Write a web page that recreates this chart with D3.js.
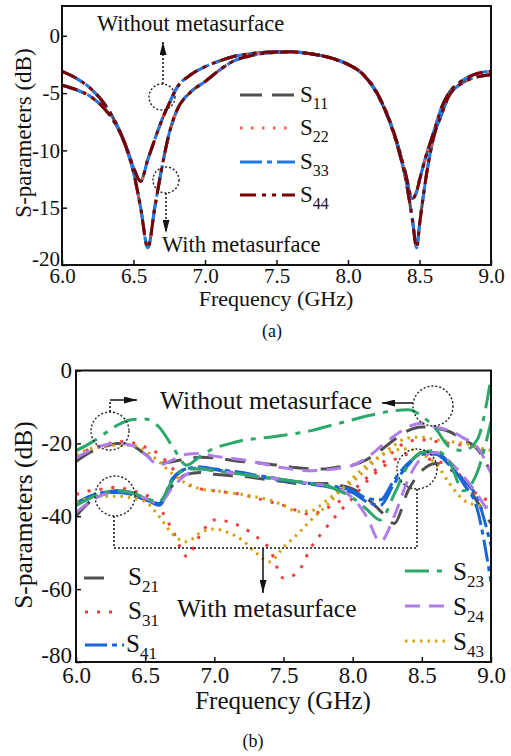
<!DOCTYPE html>
<html>
<head>
<meta charset="utf-8">
<script src="https://cdn.jsdelivr.net/npm/d3@7"></script>
<style>
body { margin: 0; background: #fff; }
svg text { font-family: "Liberation Serif", "DejaVu Serif", "Times New Roman", serif; fill: #111; }
</style>
</head>
<body>
<svg id="chart" width="511" height="756" font-family="Liberation Serif, DejaVu Serif, serif"></svg>
<script>
// ---- data ----
// panel (a): the four reflection curves lie on top of each other
var freqA = [6.0, 6.1, 6.2, 6.3, 6.35, 6.4, 6.45, 6.5, 6.55, 6.6, 6.65, 6.7, 6.75, 6.8, 6.9,
    7.0, 7.1, 7.2, 7.3, 7.4, 7.5, 7.6, 7.7, 7.8, 7.9, 8.0, 8.1, 8.2, 8.3, 8.35, 8.4, 8.45, 8.48,
    8.5, 8.55, 8.6, 8.65, 8.7, 8.8, 8.9, 9.0]
var reflWithout = [-3.1, -3.7, -4.6, -6.0, -7.0, -8.2, -9.7, -11.5, -12.7, -10.8, -9.0, -7.3, -5.9, -4.6, -3.4,
    -2.7, -2.2, -1.8, -1.6, -1.45, -1.4, -1.4, -1.5, -1.7, -2.0, -2.5, -3.3, -4.9, -7.7, -9.6, -11.9, -14.2, -13.6,
    -12.6, -10.3, -8.4, -6.4, -5.1, -3.9, -3.3, -3.1]
var reflWith = [-4.3, -4.7, -5.3, -6.4, -7.2, -8.3, -9.8, -11.9, -15.0, -18.5, -14.9, -11.4, -8.5, -6.6, -4.9,
    -4.0, -3.0, -2.2, -1.8, -1.55, -1.45, -1.4, -1.5, -1.7, -2.0, -2.5, -3.3, -5.0, -7.8, -9.8, -12.3, -16.0, -18.5,
    -16.5, -12.0, -8.8, -7.0, -5.4, -4.1, -3.6, -3.4]

// panel (b): transmission curves
var freqB = [6.0, 6.1, 6.2, 6.3, 6.4, 6.5, 6.6, 6.7, 6.8, 6.9, 7.0, 7.1, 7.2, 7.3, 7.4, 7.5,
    7.6, 7.7, 7.8, 7.9, 8.0, 8.1, 8.2, 8.3, 8.4, 8.5, 8.6, 8.7, 8.8, 8.9, 9.0]
var s21Without = [-25, -22.5, -21, -20, -20.5, -23, -25.5, -25, -24.2, -23.8, -24, -24.5, -25, -25.3, -25.7, -26.2,
    -26.7, -27, -27, -26.5, -26, -24.5, -22, -19, -16.5, -15.5, -15.8, -16.8, -19, -21.5, -28]
var s21With = [-40, -36, -34, -33, -33.5, -35.5, -36, -31.5, -28.5, -28, -28.5, -28.8, -29, -29.5, -30, -30.5,
    -31, -31, -31, -31.5, -32.5, -35, -38.5, -42, -33, -27.5, -25.5, -27, -30, -36, -42]
var s31Without = [-24, -21.5, -20.5, -19.5, -19.8, -21, -23, -27, -31, -32.5, -33, -33.5, -34, -35, -36, -37,
    -38.5, -39.5, -38, -36, -33, -29.5, -26, -22, -19.5, -19, -19.5, -20, -20.5, -21, -24]
var s31With = [-34, -33, -32.5, -32, -33, -34, -37.5, -44, -51, -45, -41, -41.5, -43, -45.5, -49, -57,
    -55.5, -48.5, -43.5, -39, -35, -30.5, -27, -24.5, -23, -23.5, -25, -25.5, -30, -34, -36]
var s41Without = [-36.5, -34.5, -33.5, -33.5, -34, -35.5, -36.5, -29.5, -27, -26.8, -27.2, -27.8, -28.3, -29, -29.6, -30.2,
    -30.7, -31.2, -31.8, -32.5, -33.5, -36, -37, -31, -26, -22.5, -22.5, -25.5, -31, -38, -58]
var s41With = [-37, -35, -33.5, -33, -33.5, -35, -37, -30, -27, -26.5, -27, -27.5, -28, -28.7, -29.3, -30,
    -30.5, -31, -31.5, -32, -33, -35, -35.5, -30, -25.5, -23, -23, -26, -30, -35, -48]
var s23Without = [-22, -20, -17.5, -15, -13.5, -13.3, -15.5, -21, -26, -23.5, -21.3, -20.2, -19.2, -18.7, -18.3, -17.8,
    -17.2, -16.5, -15.5, -14.5, -13.5, -12.5, -11.7, -11, -10.8, -12.5, -16, -21, -22, -19, -2]
var s23With = [-37, -35, -33.5, -33, -33.5, -35, -36, -30, -27, -27, -27.5, -28, -28.5, -29, -29.5, -30,
    -30.5, -31, -31.5, -33, -35, -38, -41, -34, -26, -22.5, -22, -25, -33, -28, -14]
var s24Without = [-24, -22, -20.5, -20, -20.5, -23, -26, -24.5, -23, -22.8, -23.5, -24, -24.5, -25.2, -26, -26.7,
    -27.2, -27.5, -27.3, -26.8, -26, -24, -21, -18, -15.5, -14.5, -15.5, -16.5, -18.5, -21, -28]
var s24With = [-39, -36, -34, -33, -33.5, -35, -36.5, -32, -28.5, -27, -27.5, -28, -28.5, -29, -29.5, -30,
    -30.5, -31, -31.5, -32.5, -35, -40, -47, -40, -30, -24, -22.5, -25, -29, -34, -40]
var s43Without = [-23, -21.5, -21, -20.5, -20.5, -22, -25, -28.5, -31, -32.5, -33, -33.5, -34, -34.7, -35.5, -37,
    -38.7, -38.5, -36, -33, -30.5, -27, -23.5, -20.5, -18.5, -18.3, -19, -19.5, -20, -21, -22]
var s43With = [-36, -35, -34.5, -34.5, -35, -36, -40, -45, -47, -44.5, -43.5, -44.5, -46.5, -50, -52.5, -48.5,
    -45, -41, -37.5, -33.5, -29.5, -26, -23.5, -22, -21.5, -23, -25.5, -31, -35.5, -37, -37.5]

var ticksX = [6.0, 6.5, 7.0, 7.5, 8.0, 8.5, 9.0]
var ticksYA = [-20, -15, -10, -5, 0]
var ticksYB = [-80, -60, -40, -20, 0]

// ---- styles ----
var serif = "Liberation Serif, DejaVu Serif, serif"
var lineStyle = {
    "11": {color: "#505050", dash: "22 10"},
    "22": {color: "#ff5a5a", dash: "2.5 8.5"},
    "33": {color: "#1f7ae6", dash: "22 5 5 5"},
    "44": {color: "#7a0000", dash: "16 6 4 6 4 6"},
    "21": {color: "#505050", dash: "20 12"},
    "31": {color: "#f03c3c", dash: "3 9"},
    "41": {color: "#1865d8", dash: "22 5 5 5"},
    "23": {color: "#2ca86a", dash: "24 8 5 8"},
    "24": {color: "#b07ee8", dash: "15 9"},
    "43": {color: "#d4a20f", dash: "2.5 5"}
}

var seriesA = [
    {name: "11", without: reflWithout, with: reflWith},
    {name: "22", without: reflWithout, with: reflWith},
    {name: "33", without: reflWithout, with: reflWith},
    {name: "44", without: reflWithout, with: reflWith}
]
var seriesB = [
    {name: "21", without: s21Without, with: s21With},
    {name: "31", without: s31Without, with: s31With},
    {name: "41", without: s41Without, with: s41With},
    {name: "43", without: s43Without, with: s43With},
    {name: "24", without: s24Without, with: s24With},
    {name: "23", without: s23Without, with: s23With}
]

var svg = d3.select("#chart")
svg.append("rect").attr("width", 511).attr("height", 756).attr("fill", "#fff")

var defs = svg.append("defs")
defs.append("marker").attr("id", "head")
    .attr("viewBox", "0 0 10 10").attr("refX", 10).attr("refY", 5)
    .attr("markerUnits", "userSpaceOnUse").attr("markerWidth", 13).attr("markerHeight", 7)
    .attr("preserveAspectRatio", "none").attr("orient", "auto")
    .append("path").attr("d", "M0,0L10,5L0,10z").attr("fill", "#111")

var xA = d3.scaleLinear().domain([6, 9]).range([62, 491])
var yA = d3.scaleLinear().domain([-20, 2.6]).range([265, 6])
var xB = d3.scaleLinear().domain([6, 9]).range([76, 491])
var yB = d3.scaleLinear().domain([-80, 0]).range([662, 370.5])

function drawPanel(id, x, y, freq, series, yTicks, fs, pad) {
    var r = x.range(), d = y.range()
    defs.append("clipPath").attr("id", "clip" + id)
        .append("rect").attr("x", r[0]).attr("y", d[1]).attr("width", r[1] - r[0]).attr("height", d[0] - d[1])

    var line = d3.line()
        .x(function(p, i){ return x(freq[i]) })
        .y(function(p){ return y(p) })
        .curve(d3.curveMonotoneX)

    var g = svg.append("g").attr("clip-path", "url(#clip" + id + ")")
    series.forEach(function(s){
        var st = lineStyle[s.name];
        [s.without, s.with].forEach(function(vals){
            g.append("path")
                .attr("d", line(vals))
                .attr("fill", "none")
                .attr("stroke", st.color)
                .attr("stroke-width", 3)
                .attr("stroke-dasharray", st.dash)
        })
    })

    var xAxis = svg.append("g").attr("transform", "translate(0," + d[0] + ")")
        .call(d3.axisBottom(x).tickValues(ticksX).tickFormat(d3.format(".1f")).tickSize(-5).tickPadding(pad.x))
    var yAxis = svg.append("g").attr("transform", "translate(" + r[0] + ",0)")
        .call(d3.axisLeft(y).tickValues(yTicks).tickFormat(function(v){ return String(v) }).tickSize(-5).tickPadding(pad.y))
    ;[xAxis, yAxis].forEach(function(a){
        a.select(".domain").remove()
        a.attr("font-family", serif).attr("font-size", fs)
        a.selectAll("line").attr("stroke", "#111").attr("stroke-width", 1.5)
        a.selectAll("text").attr("fill", "#111")
    })
    // lowest y label sits just above the corner so it does not run into "6.0"
    yAxis.selectAll("text").filter(function(v){ return v === yTicks[0] }).attr("dy", "0em")

    svg.append("rect").attr("x", r[0]).attr("y", d[1]).attr("width", r[1] - r[0]).attr("height", d[0] - d[1])
        .attr("fill", "none").attr("stroke", "#111").attr("stroke-width", 2)
}

drawPanel("a", xA, yA, freqA, seriesA, ticksYA, 21, {x: 3, y: 2})
drawPanel("b", xB, yB, freqB, seriesB, ticksYB, 23, {x: 5, y: 4})

function label(x, y, txt, size, anchor, rot) {
    var t = svg.append("text").attr("x", x).attr("y", y).attr("font-size", size)
        .attr("font-family", serif)
        .attr("text-anchor", anchor || "start").text(txt)
    if (rot) t.attr("transform", "rotate(-90," + x + "," + y + ")")
    return t
}

// axis titles and captions
label(276, 306, "Frequency (GHz)", 22, "middle")
label(31, 133, "S-parameters (dB)", 23, "middle", true)
label(272, 337, "(a)", 18, "middle")
label(283, 709, "Frequency (GHz)", 25, "middle")
label(32, 515, "S-parameters (dB)", 25.5, "middle", true)
label(253, 747, "(b)", 18, "middle")

function legendItem(x1, x2, ly, tx, name, size, subSize, off) {
    var st = lineStyle[name]
    svg.append("line").attr("x1", x1).attr("x2", x2).attr("y1", ly).attr("y2", ly)
        .attr("stroke", st.color).attr("stroke-width", 3).attr("stroke-dasharray", st.dash)
    var t = svg.append("text").attr("x", tx).attr("y", ly + off).attr("font-size", size)
        .attr("font-family", serif).text("S")
    t.append("tspan").attr("font-size", subSize).attr("dy", subSize * 0.42).text(name)
}

// legend (a)
legendItem(240, 295, 95, 300, "11", 23, 16, 7)
legendItem(240, 295, 128, 300, "22", 23, 16, 7)
legendItem(240, 295, 162, 300, "33", 23, 16, 7)
legendItem(240, 295, 195, 300, "44", 23, 16, 7)
// legend (b)
legendItem(84, 104, 578, 128, "21", 25, 17, 7)
legendItem(85, 115, 612, 128, "31", 25, 17, 7)
legendItem(85, 124, 645, 126, "41", 25, 17, 7)
legendItem(405, 448, 571, 453, "23", 25, 17, 9)
legendItem(405, 448, 606, 453, "24", 25, 17, 9)
legendItem(405, 448, 641, 453, "43", 25, 17, 9)

// annotations
function dotCircle(cx, cy, rr) {
    svg.append("circle").attr("cx", cx).attr("cy", cy).attr("r", rr)
        .attr("fill", "none").attr("stroke", "#222").attr("stroke-width", 1.4).attr("stroke-dasharray", "2 2")
}
function arrow(pts, dotted) {
    svg.append("path").attr("d", d3.line()(pts)).attr("fill", "none")
        .attr("stroke", "#111").attr("stroke-width", 1.5)
        .attr("stroke-dasharray", dotted ? "2 2" : null)
        .attr("marker-end", "url(#head)")
}

// panel (a)
label(97, 31, "Without metasurface", 22.5)
label(162, 252, "With metasurface", 22.5)
dotCircle(162, 97, 13)
arrow([[163, 84], [163, 42]], true)
dotCircle(166, 180, 13)
arrow([[166, 193], [166, 233]], true)

// panel (b)
label(160, 409, "Without metasurface", 25.5)
label(177, 617, "With metasurface", 25.5)
dotCircle(110, 431, 19)
svg.append("path").attr("d", "M110,412V400").attr("stroke", "#111").attr("stroke-width", 1.5)
    .attr("stroke-dasharray", "2 2").attr("fill", "none")
arrow([[110, 400], [137, 400]], false)
dotCircle(433, 406, 20)
arrow([[413, 403], [382, 403]], false)
dotCircle(115, 496, 20)
dotCircle(417, 469, 20)
svg.append("path").attr("d", "M114,516V548H417V489").attr("fill", "none")
    .attr("stroke", "#111").attr("stroke-width", 1.5).attr("stroke-dasharray", "2 2")
arrow([[263, 548], [263, 593]], false)
</script>
</body>
</html>
